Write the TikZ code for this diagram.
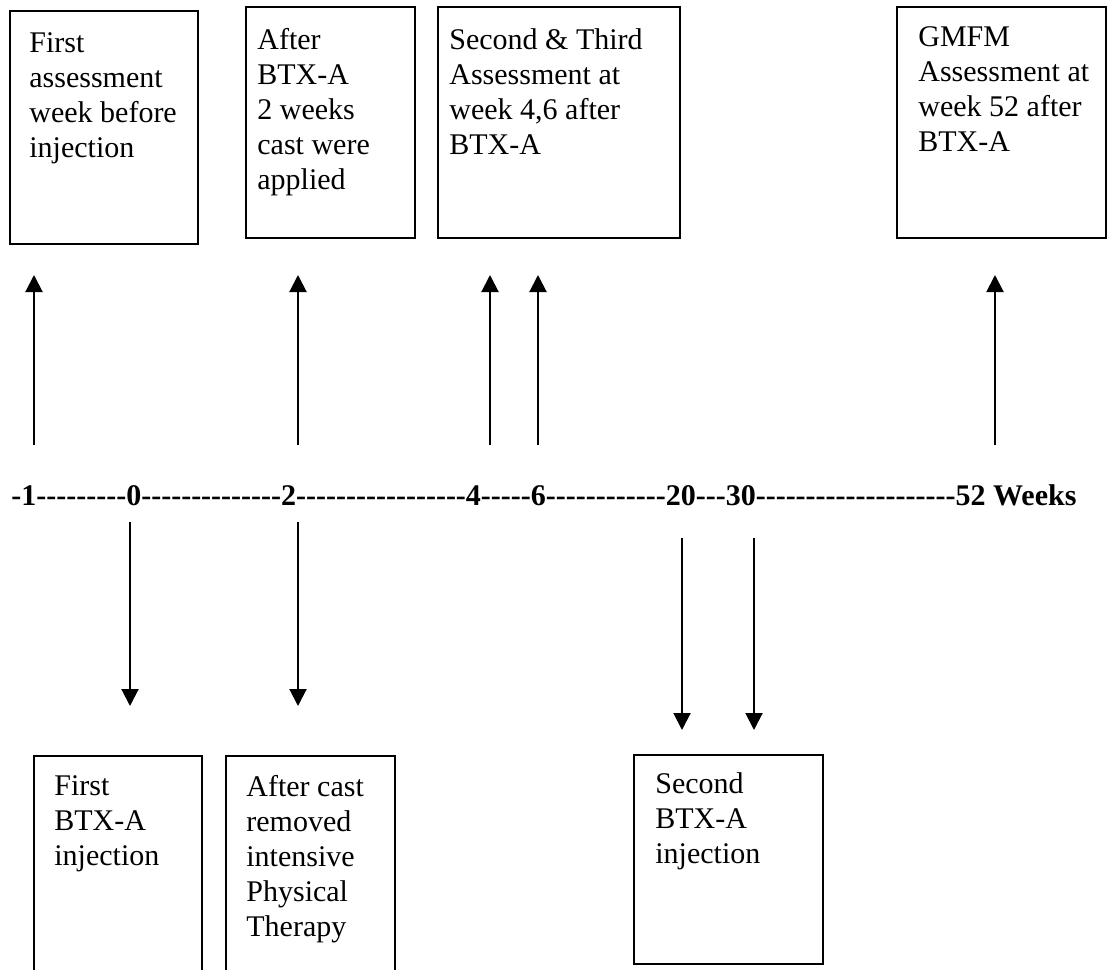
\documentclass[tikz,border=0pt]{standalone}
\usepackage{fontspec}
\setmainfont{Liberation Serif}
\usetikzlibrary{arrows.meta}
\newcommand\hyprun[1]{\foreach \hi in {1,...,#1}{\mbox{-}}}
\begin{document}
\begin{tikzpicture}[x=0.5pt,y=-0.5pt,
  boxline/.style={draw=black,line width=0.9pt},
  txt/.style={anchor=north west,inner sep=0pt,align=left,font=\fontsize{15}{17.5}\selectfont},
  arr/.style={draw=black,line width=1pt,-{Triangle[width=8.5pt,length=8.5pt]}},
  axislabel/.style={anchor=base west,inner sep=0pt,font=\fontsize{15}{17.5}\selectfont\bfseries}]
\useasboundingbox[fill=white] (0,0) rectangle (1115,970);

% top boxes
\coordinate (b1nw) at (10,11);  \coordinate (b1se) at (198,244);
\coordinate (b2nw) at (246,7);  \coordinate (b2se) at (415,238);
\coordinate (b3nw) at (438,7);  \coordinate (b3se) at (680,238);
\coordinate (b4nw) at (897,7);  \coordinate (b4se) at (1106,238);
\draw[boxline] (b1nw) rectangle (b1se);
\draw[boxline] (b2nw) rectangle (b2se);
\draw[boxline] (b3nw) rectangle (b3se);
\draw[boxline] (b4nw) rectangle (b4se);
\node[txt] (t1) at (29,32) {First\\assessment\\week before\\injection};
\node[txt] (t2) at (257,28) {After\\BTX-A\\2 weeks\\cast were\\applied};
\node[txt] (t3) at (449,28) {Second \& Third\\Assessment at\\week 4,6 after\\BTX-A};
\node[txt] (t4) at (918,26) {GMFM\\Assessment at\\week 52 after\\BTX-A};

% bottom boxes
\coordinate (b5nw) at (34,756);  \coordinate (b5se) at (202,985);
\coordinate (b6nw) at (226,756); \coordinate (b6se) at (395,985);
\coordinate (b7nw) at (634,755); \coordinate (b7se) at (823,964);
\draw[boxline] (b5nw) rectangle (b5se);
\draw[boxline] (b6nw) rectangle (b6se);
\draw[boxline] (b7nw) rectangle (b7se);
\node[txt] (t5) at (54,775) {First\\BTX-A\\injection};
\node[txt] (t6) at (246,775) {After cast\\removed\\intensive\\Physical\\Therapy};
\node[txt] (t7) at (655,772) {Second\\BTX-A\\injection};

% axis
\node[axislabel] (axis) at (11,505) {-1\hyprun{9}0\hyprun{14}2\hyprun{17}4\hyprun{5}6\hyprun{12}20\hyprun{3}30\hyprun{20}52 Weeks};

% up arrows
\foreach \n/\x in {m1/34,w2/298,w4/490,w6/538,w52/995}{
  \coordinate (u\n s) at (\x,445);
  \coordinate (u\n e) at (\x,275);
  \draw[arr] (u\n s) -- (u\n e);
}
% down arrows
\foreach \n/\x in {w0/130,w2/298}{
  \coordinate (d\n s) at (\x,522);
  \coordinate (d\n e) at (\x,706);
  \draw[arr] (d\n s) -- (d\n e);
}
\foreach \n/\x in {w20/682,w30/754}{
  \coordinate (d\n s) at (\x,538);
  \coordinate (d\n e) at (\x,730);
  \draw[arr] (d\n s) -- (d\n e);
}
\end{tikzpicture}
\end{document}
